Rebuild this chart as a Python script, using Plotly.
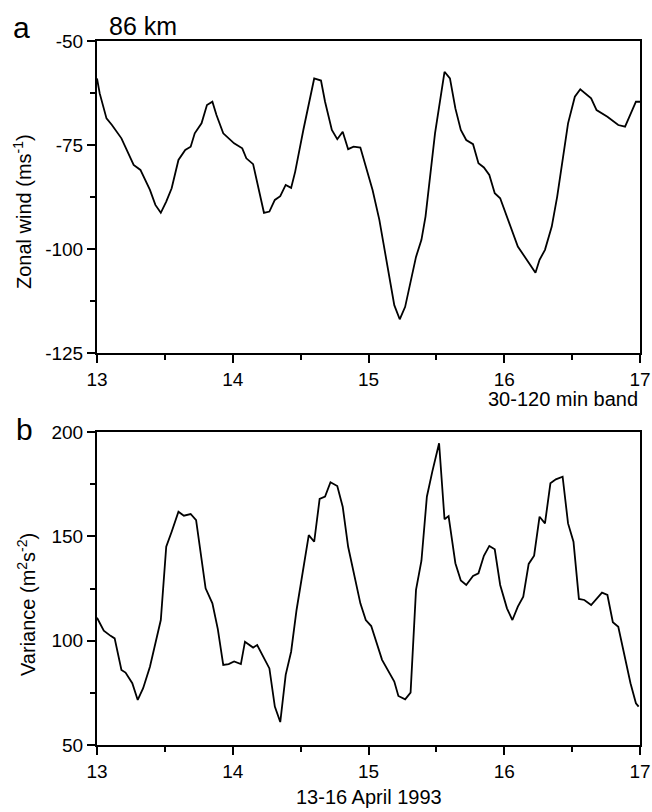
import plotly.graph_objects as go

# Panel a: zonal wind at 86 km (day of April 1993, m/s)
wind_day = [13.00, 13.02, 13.07, 13.11, 13.18, 13.27, 13.32, 13.39, 13.43, 13.47,
            13.51, 13.55, 13.60, 13.65, 13.69, 13.72, 13.77, 13.81, 13.85, 13.88,
            13.93, 14.01, 14.07, 14.10, 14.15, 14.23, 14.27, 14.31, 14.35, 14.39,
            14.43, 14.46, 14.52, 14.60, 14.65, 14.68, 14.73, 14.77, 14.81, 14.85,
            14.89, 14.94, 15.03, 15.08, 15.11, 15.19, 15.23, 15.27, 15.35, 15.39,
            15.42, 15.49, 15.56, 15.60, 15.64, 15.68, 15.72, 15.77, 15.81, 15.85,
            15.89, 15.93, 15.97, 16.02, 16.10, 16.23, 16.26, 16.30, 16.35, 16.39,
            16.47, 16.52, 16.56, 16.64, 16.68, 16.76, 16.84, 16.89, 16.97, 17.00]
wind_val = [-59.0, -62.6, -68.6, -70.2, -73.4, -79.8, -81.0, -85.8, -89.4, -91.3,
            -88.6, -85.4, -78.6, -76.2, -75.4, -72.2, -69.8, -65.4, -64.6, -67.8,
            -72.2, -74.6, -75.8, -78.2, -79.6, -91.3, -91.0, -88.2, -87.3, -84.6,
            -85.3, -81.4, -71.4, -59.0, -59.5, -64.6, -71.4, -73.6, -71.8, -76.0,
            -75.4, -75.6, -85.8, -93.0, -98.6, -113.5, -116.9, -113.9, -101.9, -97.8,
            -92.2, -72.2, -57.4, -59.0, -66.2, -71.4, -73.8, -74.8, -79.4, -80.4,
            -82.2, -86.6, -87.8, -92.2, -99.4, -105.7, -102.6, -100.2, -94.6, -87.4,
            -69.8, -63.4, -61.6, -63.8, -66.6, -68.2, -70.2, -70.6, -64.6, -64.6]

# Panel b: variance in the 30-120 min band (m^2 s^-2)
var_day = [13.00, 13.05, 13.10, 13.13, 13.18, 13.21, 13.26, 13.30, 13.34, 13.39,
           13.47, 13.51, 13.55, 13.60, 13.64, 13.69, 13.73, 13.80, 13.85, 13.89,
           13.93, 13.97, 14.01, 14.06, 14.09, 14.15, 14.18, 14.27, 14.31, 14.35,
           14.39, 14.43, 14.47, 14.52, 14.56, 14.60, 14.64, 14.68, 14.72, 14.77,
           14.81, 14.85, 14.94, 14.98, 15.02, 15.10, 15.19, 15.22, 15.27, 15.31,
           15.35, 15.39, 15.43, 15.47, 15.52, 15.56, 15.59, 15.64, 15.68, 15.72,
           15.77, 15.81, 15.85, 15.89, 15.93, 15.97, 16.02, 16.06, 16.10, 16.14,
           16.18, 16.22, 16.26, 16.30, 16.34, 16.38, 16.43, 16.47, 16.51, 16.55,
           16.59, 16.64, 16.72, 16.76, 16.80, 16.84, 16.88, 16.93, 16.97, 16.99]
var_val = [111.0, 104.8, 102.3, 101.1, 86.0, 84.7, 79.6, 71.6, 77.2, 87.5,
           109.9, 145.0, 152.2, 161.8, 159.9, 160.7, 157.8, 125.1, 117.9, 105.5,
           88.4, 88.8, 90.0, 88.8, 99.5, 96.7, 97.9, 86.7, 68.4, 61.0,
           83.6, 94.7, 114.7, 133.9, 150.6, 147.4, 167.9, 169.0, 175.9, 174.1,
           164.2, 145.0, 117.9, 109.9, 107.0, 90.8, 80.4, 73.5, 71.9, 75.1,
           124.3, 138.3, 169.0, 181.0, 194.6, 158.2, 159.7, 137.1, 128.8, 126.7,
           131.0, 132.3, 140.7, 145.4, 143.8, 126.7, 115.5, 109.9, 116.3, 121.1,
           136.8, 140.7, 159.4, 156.2, 175.4, 177.3, 178.6, 156.2, 147.4, 120.0,
           119.5, 117.1, 123.0, 121.9, 108.8, 106.7, 94.7, 79.6, 70.0, 68.4]

x_ticks = [13, 14, 15, 16, 17]
wind_ticks = [-125, -100, -75, -50]
var_ticks = [50, 100, 150, 200]

FONT = "Liberation Sans, Arial, Helvetica, sans-serif"
W, H = 652, 812
ML, MR, MT, MB = 97, 12, 41, 67
PW, PH = W - ML - MR, H - MT - MB


def px(xp):
    return (xp - ML) / PW


def py(yp):
    return (H - MB - yp) / PH


fig = go.Figure()
fig.add_trace(go.Scatter(x=wind_day, y=wind_val, mode="lines",
                         line=dict(color="black", width=1.8),
                         xaxis="x", yaxis="y", showlegend=False))
fig.add_trace(go.Scatter(x=var_day, y=var_val, mode="lines",
                         line=dict(color="black", width=1.8),
                         xaxis="x2", yaxis="y2", showlegend=False))

dom_a = [py(353), 1.0]
dom_b = [0.0, py(432)]

tickfont = dict(family=FONT, size=19, color="black")
common_x = dict(range=[13, 17], tickvals=x_ticks, ticktext=[str(v) for v in x_ticks],
                showgrid=False, zeroline=False, tickfont=tickfont,
                tickcolor="black", tickwidth=1.6, automargin=False)
base_line = dict(showline=True, linecolor="black", linewidth=2, mirror=True)
minor_x_out = dict(dtick=0.5, tick0=13, ticks="outside", ticklen=5,
                   tickcolor="black", tickwidth=1.6, showgrid=False)
minor_x_in = dict(dtick=0.5, tick0=13, ticks="inside", ticklen=5,
                  tickcolor="black", tickwidth=1.6, showgrid=False)

layout = dict(
    width=W, height=H,
    margin=dict(l=ML, r=MR, t=MT, b=MB, autoexpand=False),
    paper_bgcolor="white", plot_bgcolor="white",
    font=dict(family=FONT, color="black"),
    showlegend=False,
    # panel a
    xaxis=dict(**common_x, **base_line, anchor="y", domain=[0, 1],
               ticks="outside", ticklen=8, minor=minor_x_out),
    yaxis=dict(range=[-125, -50], tickvals=wind_ticks,
               ticktext=[str(v) for v in wind_ticks], domain=dom_a,
               anchor="x", showgrid=False, zeroline=False, tickfont=tickfont,
               ticks="outside", ticklen=8, tickcolor="black", tickwidth=1.6,
               automargin=False,
               minor=dict(dtick=12.5, tick0=-125, ticks="outside", ticklen=5,
                          tickcolor="black", tickwidth=1.6, showgrid=False),
               **base_line),
    xaxis3=dict(range=[13, 17], tickvals=x_ticks, overlaying="x", side="top",
                anchor="y", showticklabels=False, showline=False, showgrid=False,
                zeroline=False, ticks="inside", ticklen=8, tickcolor="black",
                tickwidth=1.6, minor=minor_x_in, automargin=False),
    yaxis3=dict(range=[-125, -50], tickvals=wind_ticks, overlaying="y", side="right",
                anchor="x", showticklabels=False, showline=False, showgrid=False,
                zeroline=False, ticks="inside", ticklen=8, tickcolor="black",
                tickwidth=1.6, automargin=False,
                minor=dict(dtick=12.5, tick0=-125, ticks="inside", ticklen=5,
                           tickcolor="black", tickwidth=1.6, showgrid=False)),
    # panel b
    xaxis2=dict(**common_x, **base_line, anchor="y2", domain=[0, 1],
                ticks="outside", ticklen=8, minor=minor_x_out),
    yaxis2=dict(range=[50, 200], tickvals=var_ticks,
                ticktext=[str(v) for v in var_ticks], domain=dom_b,
                anchor="x2", showgrid=False, zeroline=False, tickfont=tickfont,
                ticks="outside", ticklen=8, tickcolor="black", tickwidth=1.6,
                automargin=False,
                minor=dict(dtick=25, tick0=50, ticks="outside", ticklen=5,
                           tickcolor="black", tickwidth=1.6, showgrid=False),
                **base_line),
    xaxis4=dict(range=[13, 17], tickvals=x_ticks, overlaying="x2", side="top",
                anchor="y2", showticklabels=False, showline=False, showgrid=False,
                zeroline=False, ticks="inside", ticklen=8, tickcolor="black",
                tickwidth=1.6, minor=minor_x_in, automargin=False),
    yaxis4=dict(range=[50, 200], tickvals=var_ticks, overlaying="y2", side="right",
                anchor="x2", showticklabels=False, showline=False, showgrid=False,
                zeroline=False, ticks="inside", ticklen=8, tickcolor="black",
                tickwidth=1.6, automargin=False,
                minor=dict(dtick=25, tick0=50, ticks="inside", ticklen=5,
                           tickcolor="black", tickwidth=1.6, showgrid=False)),
)
fig.update_layout(**layout)


def ann(text, xp, yp, size, xanchor="center", angle=0):
    fig.add_annotation(text=text, x=px(xp), y=py(yp), xref="paper", yref="paper",
                       xanchor=xanchor, yanchor="middle", showarrow=False,
                       textangle=angle,
                       font=dict(family=FONT, size=size, color="black"))


ann("a", 21.5, 28, 30)
ann("86 km", 142.5, 25.5, 25)
ann("b", 24.5, 429, 30)
ann("30-120 min band", 640, 399, 20, xanchor="right")
ann("13-16 April 1993", 368.7, 797, 20)
ann("Zonal wind (ms<sup>-1</sup>)", 22, 212, 20, angle=-90)
ann("Variance (m<sup>2</sup>s<sup>-2</sup>)", 26, 605, 20, angle=-90)

fig.write_html("out.html")
